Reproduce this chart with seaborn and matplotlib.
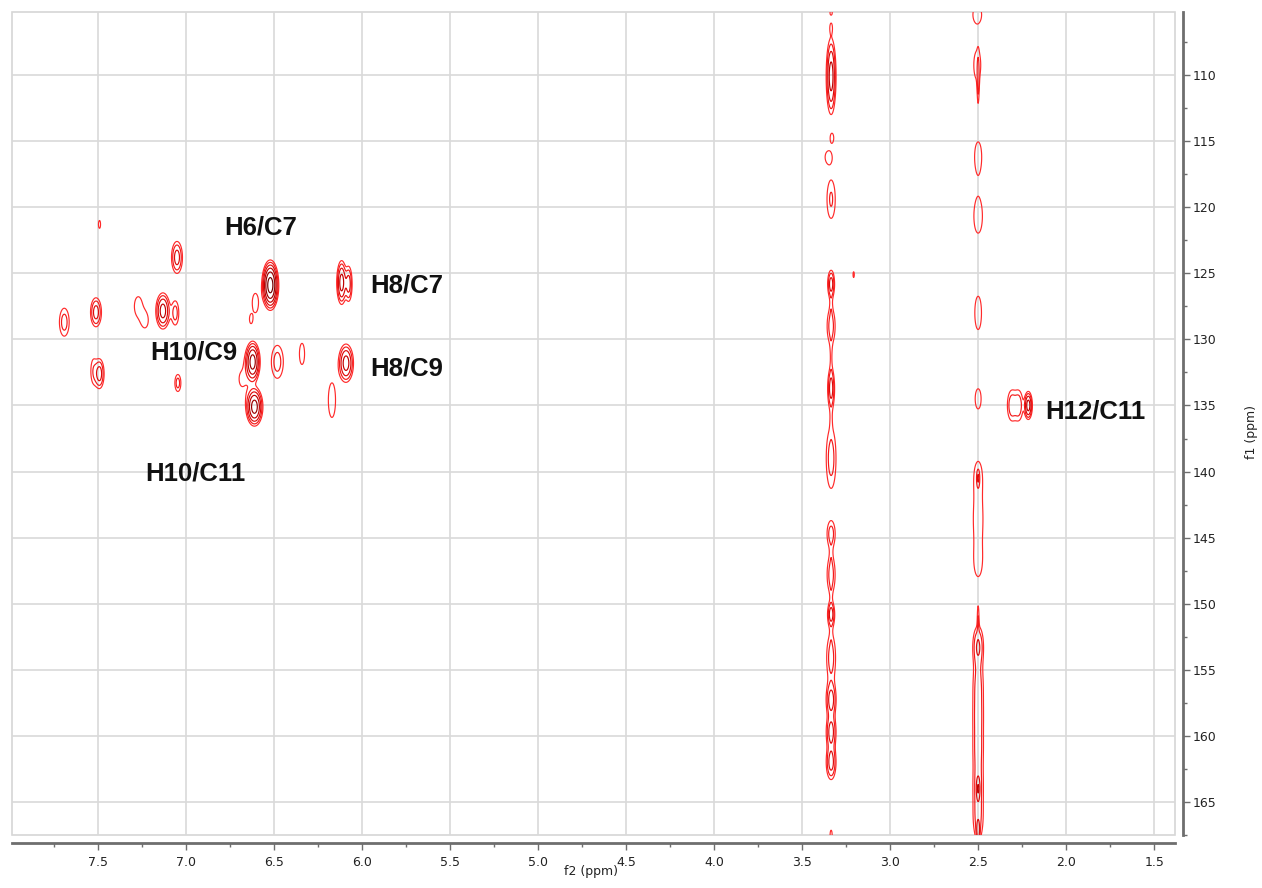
import numpy as np
import matplotlib
matplotlib.use("Agg")
import matplotlib.pyplot as plt
from matplotlib.patches import Rectangle
from matplotlib.ticker import MultipleLocator
import seaborn as sns

# ---- cross peaks: f2 (1H ppm), f1 (13C ppm), widths (ppm), intensity (x lowest level)
arom_f2 = [7.49, 7.05, 6.52, 6.115, 6.075, 6.605, 6.63, 7.69, 7.51, 7.27, 7.23, 7.13, 7.06,
           6.62, 6.48, 6.34, 6.09, 7.525, 7.49, 7.045, 6.68, 6.61, 6.17, 3.207,
           2.31, 2.27, 2.215]
arom_f1 = [121.3, 123.8, 125.9, 125.7, 125.8, 127.25, 128.5, 128.7, 127.95, 127.5, 128.6, 127.85, 128.0,
           131.7, 131.7, 131.1, 131.8, 132.4, 132.6, 133.3, 133.0, 135.1, 134.6, 125.1,
           135.0, 135.0, 135.0]
arom_w2 = [0.008, 0.019, 0.020, 0.0145, 0.012, 0.024, 0.008, 0.022, 0.019, 0.030, 0.020, 0.021, 0.016,
           0.0195, 0.027, 0.020, 0.022, 0.015, 0.016, 0.0135, 0.039, 0.022, 0.028, 0.005,
           0.018, 0.018, 0.012]
arom_w1 = [0.41, 0.74, 0.79, 0.86, 0.80, 1.0, 0.30, 0.84, 0.67, 1.0, 0.6, 0.71, 0.72,
           0.71, 0.99, 1.1, 0.75, 0.9, 0.68, 0.51, 1.25, 0.67, 1.8, 0.3,
           0.84, 0.84, 0.55]
arom_int = [1.3, 3.8, 18.5, 6.4, 3.8, 1.3, 1.3, 2.2, 3.8, 1.3, 1.25, 6.4, 2.2,
            10.9, 2.2, 1.3, 6.4, 1.5, 3.8, 2.2, 1.1, 10.9, 1.3, 1.3,
            2.4, 2.4, 6.4]

# t1 noise ridge of the water signal (f2 ~ 3.34 ppm)
water_f2 = [3.335, 3.335, 3.335, 3.33, 3.35, 3.335, 3.335, 3.335, 3.335, 3.335, 3.335, 3.335,
            3.335, 3.335, 3.335, 3.335, 3.335, 3.335,
            3.335, 3.335, 3.335, 3.335, 3.335, 3.335]
water_f1 = [105.3, 106.4, 110.1, 114.75, 116.2, 119.4, 125.8, 129.0, 133.7, 139.0, 144.7, 147.8,
            150.8, 154.1, 157.3, 159.7, 162.0, 167.5,
            127.4, 131.3, 136.0, 146.3, 149.3, 152.3]
water_w2 = [0.008, 0.007, 0.0146, 0.012, 0.025, 0.021, 0.012, 0.018, 0.012, 0.022, 0.018, 0.018,
            0.012, 0.020, 0.017, 0.017, 0.017, 0.008,
            0.006, 0.006, 0.006, 0.006, 0.006, 0.006]
water_w1 = [0.2, 0.35, 1.5, 0.4, 0.6, 1.3, 0.63, 1.05, 0.92, 1.81, 0.75, 1.1,
            0.55, 1.4, 0.8, 0.8, 0.8, 0.5,
            0.7, 1.0, 0.8, 0.7, 0.7, 0.7]
water_int = [1.3, 1.3, 6.4, 1.3, 1.3, 1.85, 3.8, 2.2, 3.8, 2.2, 2.2, 2.2,
             3.8, 2.2, 3.8, 3.8, 3.8, 1.3,
             0.7, 0.9, 0.6, 0.5, 0.5, 0.4]

# t1 noise ridge of DMSO (f2 ~ 2.50 ppm)
dmso_f2 = [2.505, 2.505, 2.50, 2.50, 2.50, 2.50, 2.50, 2.50, 2.50, 2.50, 2.50,
           2.50, 2.50, 2.50, 2.50, 2.50, 2.50, 2.50, 2.50, 2.50]
dmso_f1 = [105.4, 109.25, 110.6, 116.1, 120.7, 128.0, 134.5, 140.3, 143.6, 146.9, 140.5,
           153.2, 151.0, 156.0, 158.5, 161.0, 163.7, 166.3, 164.0, 167.2]
dmso_w2 = [0.032, 0.027, 0.004, 0.026, 0.033, 0.026, 0.023, 0.031, 0.031, 0.031, 0.005,
           0.020, 0.004, 0.022, 0.022, 0.022, 0.022, 0.022, 0.006, 0.006]
dmso_w1 = [0.8, 1.5, 1.3, 1.41, 1.73, 1.73, 1.04, 1.5, 1.5, 1.5, 0.4,
           1.0, 0.8, 1.3, 1.3, 1.3, 1.3, 1.3, 0.5, 0.5]
dmso_int = [1.3, 1.3, 1.6, 1.3, 1.3, 1.3, 1.3, 1.25, 1.25, 1.25, 2.0,
            3.0, 1.5, 2.0, 2.0, 2.0, 2.0, 2.0, 3.0, 3.0]

# correlation labels: text, f2, f1 (baseline)
label_text = ["H6/C7", "H8/C7", "H10/C9", "H8/C9", "H10/C11", "H12/C11"]
label_f2 = [6.577, 5.954, 6.957, 5.954, 6.947, 2.121]
label_f1 = [122.03, 126.47, 131.56, 132.77, 140.64, 135.97]
label_ha = ["center", "left", "center", "left", "center", "left"]

f2_range = (7.987, 1.382)
f1_range = (105.23, 167.50)

# ---- build the 2D spectrum from separable gaussian line shapes
f2 = np.array(arom_f2 + water_f2 + dmso_f2)
f1 = np.array(arom_f1 + water_f1 + dmso_f1)
w2 = np.array(arom_w2 + water_w2 + dmso_w2)
w1 = np.array(arom_w1 + water_w1 + dmso_w1)
amp = np.array(arom_int + water_int + dmso_int)

x = np.linspace(min(f2_range), max(f2_range), 3200)
y = np.linspace(min(f1_range), max(f1_range), 1400)
gx = np.exp(-(x[None, :] - f2[:, None]) ** 2 / (2 * w2[:, None] ** 2))
gy = np.exp(-(y[None, :] - f1[:, None]) ** 2 / (2 * w1[:, None] ** 2))
Z = (gy * amp[:, None]).T @ gx

levels = 1.7 ** np.arange(0, 8)
level_colors = ["#ff2a2a", "#f21a1a", "#dd0a0a", "#c00000", "#9a0000", "#700000", "#4a0000", "#300000"]

# ---- figure
sns.set_theme(style="white")
plt.rcParams["font.family"] = ["DejaVu Sans"]

W, H = 1262, 888
fig = plt.figure(figsize=(W / 100, H / 100), dpi=100)
left_px, right_px, top_px, bot_px = 12, 1175, 12, 835
ax = fig.add_axes([left_px / W, 1 - bot_px / H, (right_px - left_px) / W, (bot_px - top_px) / H])

ax.contour(x, y, Z, levels=levels, colors=level_colors, linewidths=0.85)

ax.set_xlim(*f2_range)
ax.set_ylim(f1_range[1], f1_range[0])

ax.xaxis.set_major_locator(MultipleLocator(0.5))
ax.xaxis.set_minor_locator(MultipleLocator(0.25))
ax.yaxis.set_major_locator(MultipleLocator(5))
ax.yaxis.set_minor_locator(MultipleLocator(2.5))
ax.yaxis.tick_right()
ax.xaxis.tick_bottom()

ax.grid(True, which="major", color="#d9d9d9", linewidth=1.2)
ax.set_axisbelow(True)

for side in ("top", "left"):
    ax.spines[side].set_visible(False)
for side in ("bottom", "right"):
    ax.spines[side].set_position(("outward", 6))
    ax.spines[side].set_color("#6e6e6e")
    ax.spines[side].set_linewidth(2)
ax.add_patch(Rectangle((0, 0), 1, 1, transform=ax.transAxes, fill=False,
                       edgecolor="#d6d6d6", linewidth=1.2, clip_on=False, zorder=0))

ax.tick_params(axis="both", which="major", direction="out", length=5, width=1,
               color="#6e6e6e", labelsize=9, labelcolor="#222222")
ax.tick_params(axis="both", which="minor", direction="out", length=3, width=1, color="#6e6e6e")
ax.tick_params(axis="x", pad=4)
ax.tick_params(axis="y", pad=2)

for t, px_, py_, ha in zip(label_text, label_f2, label_f1, label_ha):
    ax.text(px_, py_, t, ha=ha, va="baseline", fontsize=18.5, fontweight="bold",
            family=["Liberation Sans", "DejaVu Sans"], color="#111111")

fig.text(591 / W, 1 - 871 / H, "f2 (ppm)", ha="center", va="center", fontsize=9, color="#222222")
fig.text(1251 / W, 1 - 432 / H, "f1 (ppm)", ha="center", va="center", rotation=90,
         fontsize=9, color="#222222")

fig.savefig("out.png", dpi=100, facecolor="white")
